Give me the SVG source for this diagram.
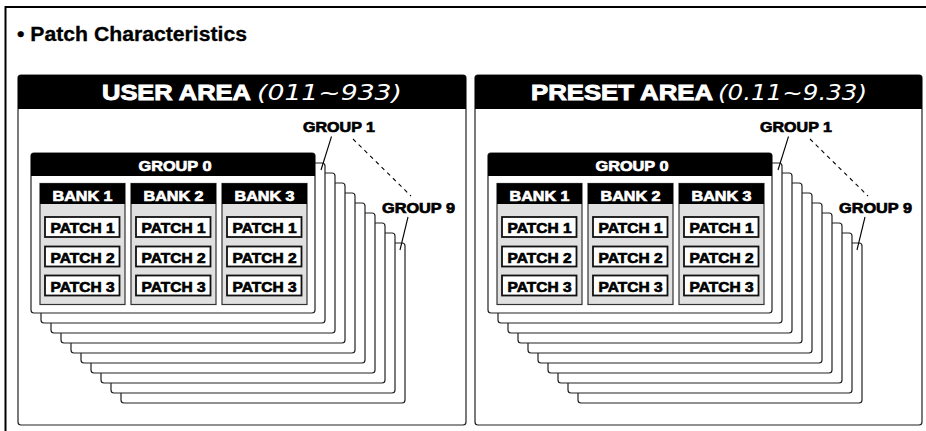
<svg xmlns="http://www.w3.org/2000/svg" width="926" height="431" viewBox="0 0 926 431">
<style>
.frame{fill:none;stroke:#000;stroke-width:2}
.area{fill:#fff;stroke:#222;stroke-width:1.2}
.blk{fill:#000}
.layer{fill:#fff;stroke:#222;stroke-width:1.2}
.bank{fill:#e0e0e0;stroke:#333;stroke-width:1.2}
.patch{fill:#fff;stroke:#111;stroke-width:1.8}
.title{font-family:"Liberation Sans",Arial,sans-serif;font-weight:bold;font-size:20px;fill:#000;stroke:#000;stroke-width:0.3}
.ta{font-family:"Liberation Sans",Arial,sans-serif;font-weight:bold;font-size:22px;fill:#fff;stroke:#fff;stroke-width:0.9}
.seg{font-family:"DejaVu Sans",sans-serif;font-style:italic;font-size:22px;fill:#fff}
.tw{font-family:"Liberation Sans",Arial,sans-serif;font-weight:bold;font-size:15px;fill:#fff;stroke:#fff;stroke-width:0.7;text-anchor:middle}
.tb{font-family:"Liberation Sans",Arial,sans-serif;font-weight:bold;font-size:15px;fill:#000;stroke:#000;stroke-width:0.7;text-anchor:middle}
.tl{font-family:"Liberation Sans",Arial,sans-serif;font-weight:bold;font-size:15px;fill:#000;stroke:#000;stroke-width:0.7}
.ln{stroke:#000;stroke-width:1.1;fill:none}
.dash{stroke:#000;stroke-width:1.1;fill:none;stroke-dasharray:4 4}
</style>
<rect width="926" height="431" fill="#fff"/>
<path class="frame" d="M926,7 H5.5 V431"/>
<text class="title" x="17" y="40.5" textLength="230" lengthAdjust="spacingAndGlyphs">• Patch Characteristics</text>

<g id="user-area">
<rect class="area" x="18" y="75" width="448" height="350" rx="3"/>
<path class="blk" d="M18,109 V78 Q18,75 21,75 H463 Q466,75 466,78 V109 Z"/>
<text class="ta" x="102" y="99.5" textLength="149" lengthAdjust="spacingAndGlyphs">USER AREA</text>
<text class="seg" x="257" y="100" textLength="145" lengthAdjust="spacingAndGlyphs">(011~933)</text>
</g>

<g id="user-groups">
<rect class="layer" x="121" y="243" width="284" height="160" rx="3"/>
<rect class="layer" x="111" y="233" width="284" height="160" rx="3"/>
<rect class="layer" x="101" y="223" width="284" height="160" rx="3"/>
<rect class="layer" x="91" y="213" width="284" height="160" rx="3"/>
<rect class="layer" x="81" y="203" width="284" height="160" rx="3"/>
<rect class="layer" x="71" y="193" width="284" height="160" rx="3"/>
<rect class="layer" x="61" y="183" width="284" height="160" rx="3"/>
<rect class="layer" x="51" y="173" width="284" height="160" rx="3"/>
<rect class="layer" x="41" y="163" width="284" height="160" rx="3"/>
</g>

<g id="user-group0">
<rect class="layer" x="31" y="153" width="284" height="160" rx="3"/>
<path class="blk" d="M31,176 V156 Q31,153 34,153 H312 Q315,153 315,156 V176 Z"/>
<text class="tw" x="175" y="170.5" textLength="73" lengthAdjust="spacingAndGlyphs">GROUP 0</text>
</g>

<g id="user-bank1">
<rect class="bank" x="40" y="183.5" width="85" height="121"/>
<rect class="blk" x="40" y="183.5" width="85" height="20.5"/>
<text class="tw" x="82.5" y="200.5" textLength="60" lengthAdjust="spacingAndGlyphs">BANK 1</text>
<rect class="patch" x="45" y="217" width="74.5" height="20"/><text class="tb" x="82.5" y="233" textLength="64" lengthAdjust="spacingAndGlyphs">PATCH 1</text>
<rect class="patch" x="45" y="246.5" width="74.5" height="20"/><text class="tb" x="82.5" y="262.5" textLength="64" lengthAdjust="spacingAndGlyphs">PATCH 2</text>
<rect class="patch" x="45" y="275.5" width="74.5" height="20"/><text class="tb" x="82.5" y="291.5" textLength="64" lengthAdjust="spacingAndGlyphs">PATCH 3</text>
</g>
<g id="user-bank2">
<rect class="bank" x="131" y="183.5" width="85" height="121"/>
<rect class="blk" x="131" y="183.5" width="85" height="20.5"/>
<text class="tw" x="173.5" y="200.5" textLength="60" lengthAdjust="spacingAndGlyphs">BANK 2</text>
<rect class="patch" x="136" y="217" width="74.5" height="20"/><text class="tb" x="173.5" y="233" textLength="64" lengthAdjust="spacingAndGlyphs">PATCH 1</text>
<rect class="patch" x="136" y="246.5" width="74.5" height="20"/><text class="tb" x="173.5" y="262.5" textLength="64" lengthAdjust="spacingAndGlyphs">PATCH 2</text>
<rect class="patch" x="136" y="275.5" width="74.5" height="20"/><text class="tb" x="173.5" y="291.5" textLength="64" lengthAdjust="spacingAndGlyphs">PATCH 3</text>
</g>
<g id="user-bank3">
<rect class="bank" x="222" y="183.5" width="85" height="121"/>
<rect class="blk" x="222" y="183.5" width="85" height="20.5"/>
<text class="tw" x="264.5" y="200.5" textLength="60" lengthAdjust="spacingAndGlyphs">BANK 3</text>
<rect class="patch" x="227" y="217" width="74.5" height="20"/><text class="tb" x="264.5" y="233" textLength="64" lengthAdjust="spacingAndGlyphs">PATCH 1</text>
<rect class="patch" x="227" y="246.5" width="74.5" height="20"/><text class="tb" x="264.5" y="262.5" textLength="64" lengthAdjust="spacingAndGlyphs">PATCH 2</text>
<rect class="patch" x="227" y="275.5" width="74.5" height="20"/><text class="tb" x="264.5" y="291.5" textLength="64" lengthAdjust="spacingAndGlyphs">PATCH 3</text>
</g>

<g id="user-labels">
<text class="tl" x="303" y="132" textLength="72" lengthAdjust="spacingAndGlyphs">GROUP 1</text>
<text class="tl" x="382" y="213" textLength="73" lengthAdjust="spacingAndGlyphs">GROUP 9</text>
</g>

<g id="preset-area">
<rect class="area" x="475" y="75" width="447" height="350" rx="3"/>
<path class="blk" d="M475,109 V78 Q475,75 478,75 H919 Q922,75 922,78 V109 Z"/>
<text class="ta" x="531" y="99.5" textLength="182" lengthAdjust="spacingAndGlyphs">PRESET AREA</text>
<text class="seg" x="718" y="100" textLength="149" lengthAdjust="spacingAndGlyphs">(0.11~9.33)</text>
</g>

<g id="preset-groups">
<rect class="layer" x="578" y="243" width="284" height="160" rx="3"/>
<rect class="layer" x="568" y="233" width="284" height="160" rx="3"/>
<rect class="layer" x="558" y="223" width="284" height="160" rx="3"/>
<rect class="layer" x="548" y="213" width="284" height="160" rx="3"/>
<rect class="layer" x="538" y="203" width="284" height="160" rx="3"/>
<rect class="layer" x="528" y="193" width="284" height="160" rx="3"/>
<rect class="layer" x="518" y="183" width="284" height="160" rx="3"/>
<rect class="layer" x="508" y="173" width="284" height="160" rx="3"/>
<rect class="layer" x="498" y="163" width="284" height="160" rx="3"/>
</g>

<g id="preset-group0">
<rect class="layer" x="488" y="153" width="284" height="160" rx="3"/>
<path class="blk" d="M488,176 V156 Q488,153 491,153 H769 Q772,153 772,156 V176 Z"/>
<text class="tw" x="632" y="170.5" textLength="73" lengthAdjust="spacingAndGlyphs">GROUP 0</text>
</g>

<g id="preset-bank1">
<rect class="bank" x="497" y="183.5" width="85" height="121"/>
<rect class="blk" x="497" y="183.5" width="85" height="20.5"/>
<text class="tw" x="539.5" y="200.5" textLength="60" lengthAdjust="spacingAndGlyphs">BANK 1</text>
<rect class="patch" x="502" y="217" width="74.5" height="20"/><text class="tb" x="539.5" y="233" textLength="64" lengthAdjust="spacingAndGlyphs">PATCH 1</text>
<rect class="patch" x="502" y="246.5" width="74.5" height="20"/><text class="tb" x="539.5" y="262.5" textLength="64" lengthAdjust="spacingAndGlyphs">PATCH 2</text>
<rect class="patch" x="502" y="275.5" width="74.5" height="20"/><text class="tb" x="539.5" y="291.5" textLength="64" lengthAdjust="spacingAndGlyphs">PATCH 3</text>
</g>
<g id="preset-bank2">
<rect class="bank" x="588" y="183.5" width="85" height="121"/>
<rect class="blk" x="588" y="183.5" width="85" height="20.5"/>
<text class="tw" x="630.5" y="200.5" textLength="60" lengthAdjust="spacingAndGlyphs">BANK 2</text>
<rect class="patch" x="593" y="217" width="74.5" height="20"/><text class="tb" x="630.5" y="233" textLength="64" lengthAdjust="spacingAndGlyphs">PATCH 1</text>
<rect class="patch" x="593" y="246.5" width="74.5" height="20"/><text class="tb" x="630.5" y="262.5" textLength="64" lengthAdjust="spacingAndGlyphs">PATCH 2</text>
<rect class="patch" x="593" y="275.5" width="74.5" height="20"/><text class="tb" x="630.5" y="291.5" textLength="64" lengthAdjust="spacingAndGlyphs">PATCH 3</text>
</g>
<g id="preset-bank3">
<rect class="bank" x="679" y="183.5" width="85" height="121"/>
<rect class="blk" x="679" y="183.5" width="85" height="20.5"/>
<text class="tw" x="721.5" y="200.5" textLength="60" lengthAdjust="spacingAndGlyphs">BANK 3</text>
<rect class="patch" x="684" y="217" width="74.5" height="20"/><text class="tb" x="721.5" y="233" textLength="64" lengthAdjust="spacingAndGlyphs">PATCH 1</text>
<rect class="patch" x="684" y="246.5" width="74.5" height="20"/><text class="tb" x="721.5" y="262.5" textLength="64" lengthAdjust="spacingAndGlyphs">PATCH 2</text>
<rect class="patch" x="684" y="275.5" width="74.5" height="20"/><text class="tb" x="721.5" y="291.5" textLength="64" lengthAdjust="spacingAndGlyphs">PATCH 3</text>
</g>

<g id="preset-labels">
<text class="tl" x="760" y="132" textLength="72" lengthAdjust="spacingAndGlyphs">GROUP 1</text>
<text class="tl" x="839" y="213" textLength="73" lengthAdjust="spacingAndGlyphs">GROUP 9</text>
</g>

<g id="connectors">
<line class="ln" x1="331.5" y1="136.5" x2="321" y2="170"/>
<line class="dash" x1="353" y1="139" x2="411" y2="196"/>
<line class="ln" x1="408" y1="217" x2="400" y2="250"/>
<line class="ln" x1="788.5" y1="136.5" x2="778" y2="170"/>
<line class="dash" x1="810" y1="139" x2="868" y2="196"/>
<line class="ln" x1="865" y1="217" x2="857" y2="250"/>
</g>
</svg>
